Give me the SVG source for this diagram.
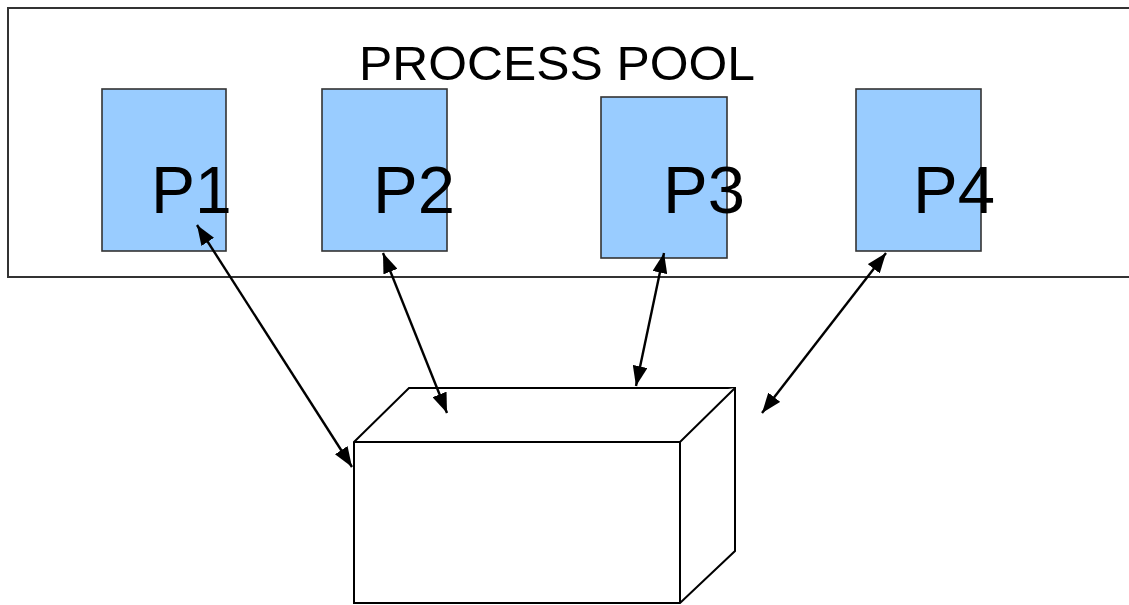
<svg xmlns="http://www.w3.org/2000/svg" width="1129" height="605" viewBox="0 0 1129 605">
<style>
.pool{fill:#ffffff;stroke:#333333;stroke-width:2}
.proc{fill:#99ccff;stroke:#333333;stroke-width:1.6}
.lbl{font-family:"Liberation Sans",Arial,sans-serif;fill:#000000}
.edge{fill:none;stroke:#000000;stroke-width:2.4}
.box{fill:#ffffff;stroke:#000000;stroke-width:2;stroke-linejoin:miter}
</style>
<defs>
<marker id="ah" viewBox="0 0 20 15" refX="20" refY="7.5" markerWidth="20" markerHeight="15" markerUnits="userSpaceOnUse" orient="auto-start-reverse">
<path d="M0,0 L20,7.5 L0,15 z" fill="#000000"/>
</marker>
</defs>
<rect width="1129" height="605" fill="#ffffff"/>
<g id="pool">
<rect class="pool" x="8" y="8" width="1130" height="269"/>
<text class="lbl" x="359" y="80" font-size="48" textLength="396" lengthAdjust="spacingAndGlyphs">PROCESS POOL</text>
</g>
<g id="p1">
<rect class="proc" x="102" y="89" width="124" height="162"/>
<text class="lbl" x="151" y="213" font-size="66">P1</text>
</g>
<g id="p2">
<rect class="proc" x="322" y="89" width="125" height="162"/>
<text class="lbl" x="373" y="213" font-size="67">P2</text>
</g>
<g id="p3">
<rect class="proc" x="601" y="97" width="126" height="161"/>
<text class="lbl" x="663" y="213" font-size="67">P3</text>
</g>
<g id="p4">
<rect class="proc" x="856" y="89" width="125" height="162"/>
<text class="lbl" x="913" y="213" font-size="67">P4</text>
</g>
<g id="storage">
<path class="box" d="M354,442 L409,388 L735,388 L735,551 L680,603 L354,603 Z"/>
<path class="box" d="M354,442 L680,442 L735,388 M680,442 L680,603"/>
</g>
<g id="connectors">
<line class="edge" x1="197" y1="225" x2="352" y2="467" marker-start="url(#ah)" marker-end="url(#ah)"/>
<line class="edge" x1="383" y1="253" x2="447" y2="413" marker-start="url(#ah)" marker-end="url(#ah)"/>
<line class="edge" x1="664" y1="253" x2="636" y2="386" marker-start="url(#ah)" marker-end="url(#ah)"/>
<line class="edge" x1="886" y1="253" x2="762" y2="413" marker-start="url(#ah)" marker-end="url(#ah)"/>
</g>
</svg>
